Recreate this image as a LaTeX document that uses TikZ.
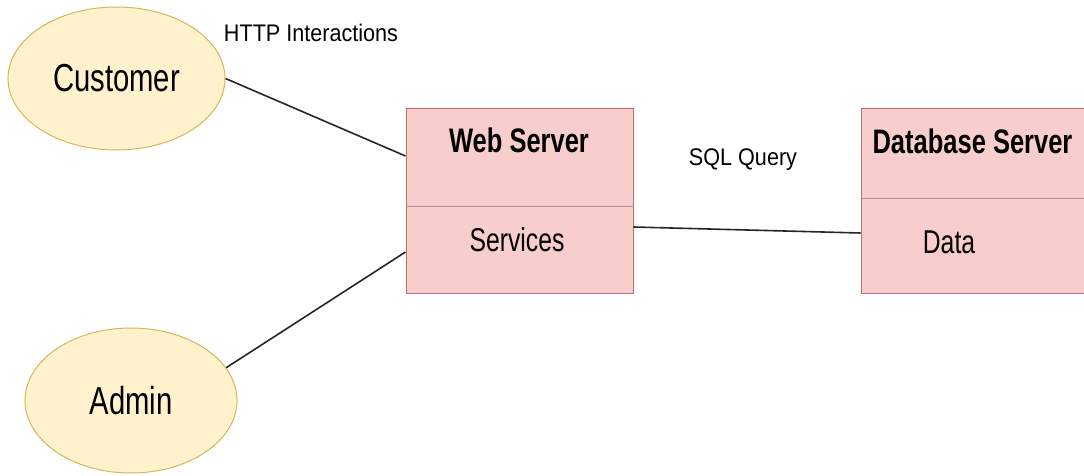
\documentclass[tikz,border=0pt]{standalone}
\usepackage{fontspec}
\setmainfont{Liberation Sans}[FakeStretch=0.75]
\newfontfamily\labelfont{Liberation Sans}[FakeStretch=0.9]
\usetikzlibrary{shapes.geometric}

\definecolor{actorfill}{RGB}{255,242,204}
\definecolor{actordraw}{RGB}{214,182,86}
\definecolor{serverfill}{RGB}{248,206,204}
\definecolor{serverdraw}{RGB}{190,110,110}
\definecolor{splitdraw}{RGB}{175,150,150}

\begin{document}
\begin{tikzpicture}[x=1pt, y=-1pt,
    actor/.style={ellipse, draw=actordraw, fill=actorfill, line width=1pt,
      font=\fontsize{39}{46}\selectfont},
    server/.style={rectangle, draw=serverdraw, fill=serverfill, line width=1pt,
      minimum width=227pt, minimum height=184pt},
    title/.style={font=\fontsize{34}{40}\selectfont\bfseries},
    part/.style={font=\fontsize{33}{40}\selectfont},
    tag/.style={font=\labelfont\fontsize{24}{29}\selectfont},
    link/.style={draw=black!85, line width=1.6pt}]
  \useasboundingbox (0,0) rectangle (1084,476);
  \clip (0,0) rectangle (1084,476);

  % actors
  \node[actor, minimum width=217pt, minimum height=143pt] (customer) at (116.5,78.5) {Customer};
  \node[actor, minimum width=212pt, minimum height=145pt] (admin) at (131,400.5) {Admin};

  % servers
  \node[server] (web) at (519.5,201) {};
  \node[server, minimum width=249pt] (db) at (985.5,201) {};
  \draw[splitdraw, line width=1pt] ([yshift=-5pt]web.west) -- ([yshift=-5pt]web.east);
  \draw[splitdraw, line width=1pt] ([yshift=3pt]db.west) -- ([yshift=3pt]db.east);

  \node[title] (webtitle) at (519,140.5) {Web Server};
  \node[part] (services) at (517,240) {Services};
  \node[title] (dbtitle) at (972.5,141.5) {Database Server};
  \node[part] (data) at (949,242) {Data};

  % labels
  \node[tag] (http) at (311,32.5) {HTTP Interactions};
  \node[tag, anchor=base] (sql) at (743,165) {SQL Query};

  % connections
  \draw[link] (customer.east) -- ([yshift=45pt]web.west);
  \draw[link] (admin.19) -- ([yshift=-51pt]web.west);
  \draw[link] ([yshift=-26pt]web.east) -- ([yshift=-32pt]db.west);
\end{tikzpicture}
\end{document}
